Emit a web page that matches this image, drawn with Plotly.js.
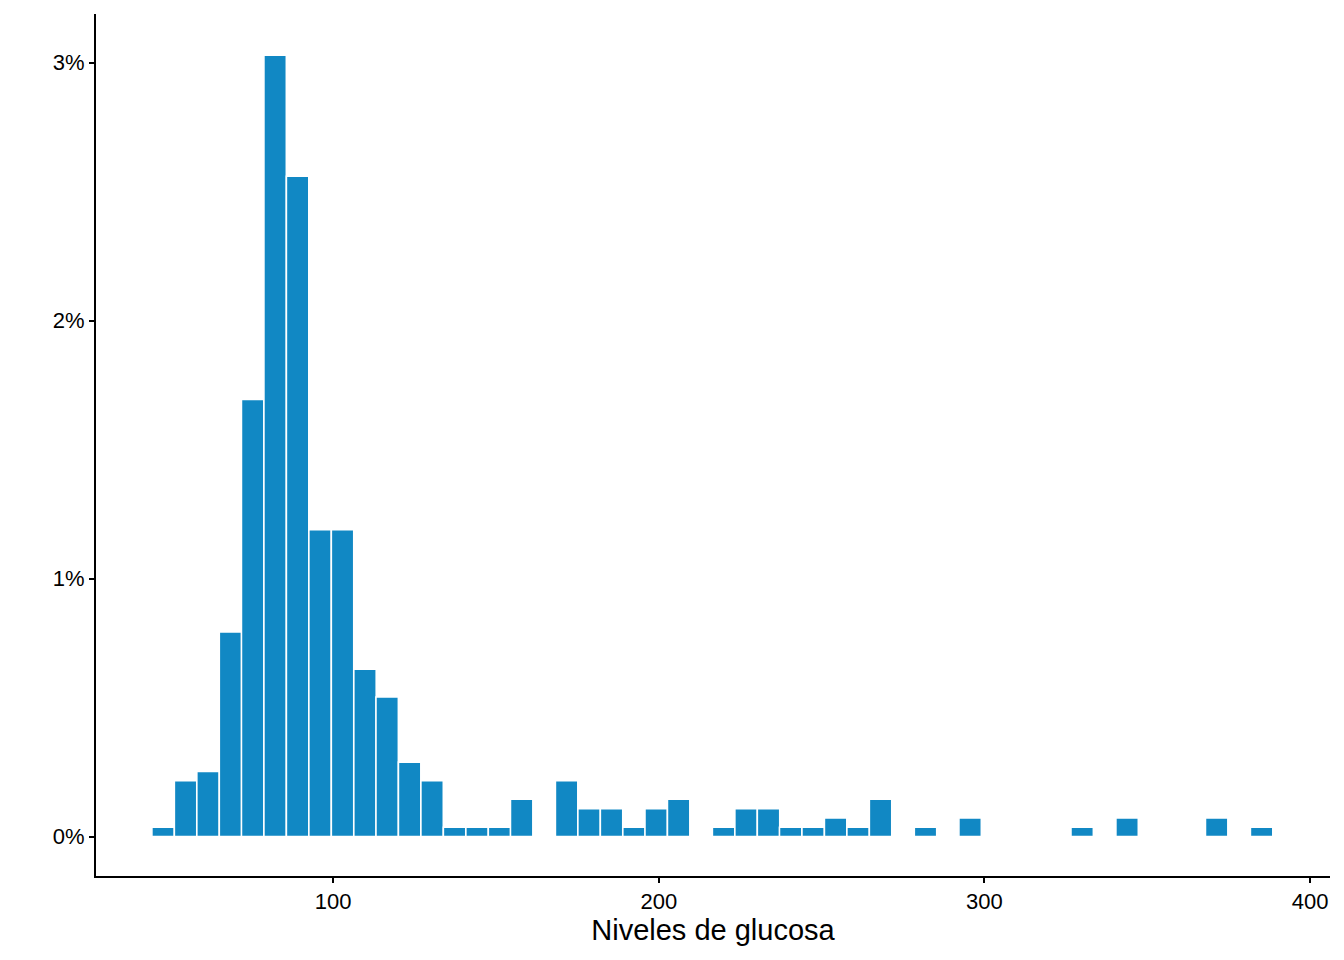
<!DOCTYPE html>
<html>
<head>
<meta charset="utf-8">
<script src="https://cdn.plot.ly/plotly-3.0.1.min.js"></script>
<style>html,body{margin:0;padding:0;background:#fff;}#chart{width:1344px;height:960px;}</style>
</head>
<body>
<div id="chart"></div>
<script>
// Bin centres (Niveles de glucosa) and counts per bin
const binCenters = [47.8, 54.7, 61.6, 68.5, 75.3, 82.2, 89.1, 96.0, 102.9, 109.8,
  116.6, 123.5, 130.4, 137.3, 144.2, 151.1, 157.9, 164.8, 171.7, 178.6,
  185.5, 192.4, 199.2, 206.1, 213.0, 219.9, 226.8, 233.7, 240.5, 247.4,
  254.3, 261.2, 268.1, 275.0, 281.9, 288.7, 295.6, 302.5, 309.4, 316.3,
  323.2, 330.0, 336.9, 343.8, 350.7, 357.6, 364.5, 371.3, 378.2, 385.1];
const binCounts = [1, 6, 7, 22, 47, 84, 71, 33, 33, 18,
  15, 8, 6, 1, 1, 1, 4, 0, 6, 3,
  3, 1, 3, 4, 0, 1, 3, 3, 1, 1,
  2, 1, 4, 0, 1, 0, 2, 0, 0, 0,
  0, 1, 0, 2, 0, 0, 0, 2, 0, 1];
const binWidth = 6.884;
const xTickVals = [100, 200, 300, 400];
const yTickVals = [0, 0.01, 0.02, 0.03];
const yTickText = ['0%', '1%', '2%', '3%'];
const xTitle = 'Niveles de glucosa';

const total = binCounts.reduce((a, b) => a + b, 0);
const density = binCounts.map(c => c / (total * binWidth));

const trace = {
  type: 'bar',
  x: binCenters,
  y: density,
  width: binWidth,
  marker: {color: '#1188c4', line: {color: '#ffffff', width: 1.6}},
  hoverinfo: 'skip'
};

const font = {family: '"Liberation Sans", Arial, sans-serif', color: '#000'};
const layout = {
  width: 1344, height: 960,
  margin: {l: 96, r: 14, t: 14, b: 84, pad: 0},
  paper_bgcolor: '#fff', plot_bgcolor: '#fff',
  showlegend: false,
  bargap: 0,
  font: font,
  xaxis: {
    range: [27.2, 406.1],
    tickvals: xTickVals,
    ticktext: xTickVals.map(String),
    ticks: 'outside', ticklen: 5, tickwidth: 2, tickcolor: '#000',
    showline: true, linecolor: '#000', linewidth: 2,
    showgrid: false, zeroline: false,
    tickfont: {size: 22, family: font.family, color: '#000'},
    title: {text: xTitle, font: {size: 29, family: font.family, color: '#000'}, standoff: 5}
  },
  yaxis: {
    range: [-0.00153, 0.03188],
    tickvals: yTickVals,
    ticktext: yTickText,
    ticks: 'outside', ticklen: 5, tickwidth: 2, tickcolor: '#000',
    showline: true, linecolor: '#000', linewidth: 2,
    showgrid: false, zeroline: false,
    tickfont: {size: 22, family: font.family, color: '#000'}
  }
};

Plotly.newPlot('chart', [trace], layout, {displayModeBar: false, staticPlot: true});
</script>
</body>
</html>
